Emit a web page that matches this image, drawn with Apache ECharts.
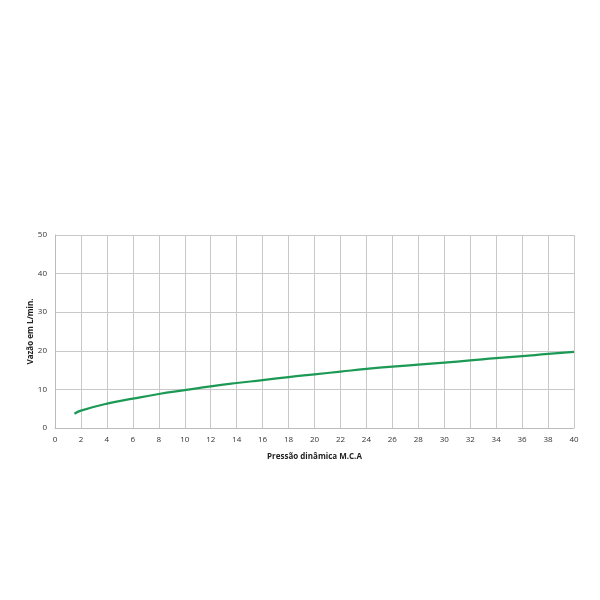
<!DOCTYPE html>
<html>
<head>
<meta charset="utf-8">
<script src="https://cdn.jsdelivr.net/npm/echarts@6/dist/echarts.min.js"></script>
<style>
html,body{margin:0;padding:0;background:#fff;}
#main{width:600px;height:600px;}
</style>
</head>
<body>
<div id="main"></div>
<script>
// pressão (m.c.a) x vazão (L/min)
var pressao = [1.5, 2, 4, 6, 8, 10, 12, 14, 16, 18, 20, 22, 24, 26, 28, 30, 32, 34, 36, 38, 40];
var vazao = [3.7, 4.5, 6.3, 7.6, 8.8, 9.8, 10.8, 11.65, 12.4, 13.2, 13.9, 14.6, 15.3, 15.9, 16.4, 16.95, 17.5, 18.1, 18.6, 19.2, 19.7];

var pontos = pressao.map(function(p, i){ return [p, vazao[i]]; });

var chart = echarts.init(document.getElementById('main'));
var labelStyle = {color:'#333', fontSize:8, fontFamily:'Open Sans'};
chart.setOption({
    animation:false,
    grid:{left:55, right:26, top:235, bottom:172},
    xAxis:{
        type:'value', min:0, max:40, interval:2,
        name:'Pressão dinâmica M.C.A', nameLocation:'middle', nameGap:25,
        nameTextStyle:{fontSize:8, fontWeight:'bold', color:'#222', fontFamily:'Open Sans'},
        axisLine:{lineStyle:{color:'#bbb'}},
        axisTick:{show:false},
        axisLabel:labelStyle,
        splitLine:{show:true, lineStyle:{color:'#c8c8c8'}}
    },
    yAxis:{
        type:'value', min:0, max:50, interval:10,
        name:'Vazão em L/min.', nameLocation:'middle', nameGap:20, nameMoveOverlap:false,
        nameTextStyle:{fontSize:8, fontWeight:'bold', color:'#222', fontFamily:'Open Sans'},
        axisLine:{show:true, lineStyle:{color:'#bbb'}},
        axisTick:{show:false},
        axisLabel:labelStyle,
        splitLine:{show:true, lineStyle:{color:'#c8c8c8'}}
    },
    series:[{
        type:'line', data:pontos, smooth:true, showSymbol:false,
        lineStyle:{color:'#1c9a55', width:2.2}
    }]
});
</script>
</body>
</html>
